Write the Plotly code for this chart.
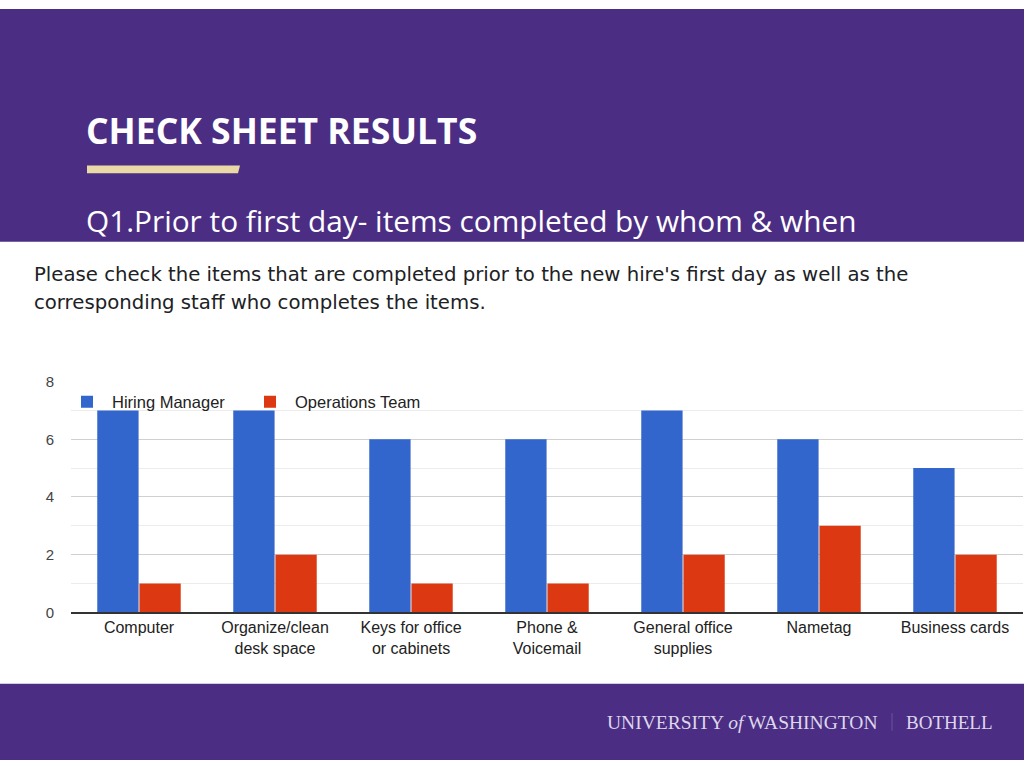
import plotly.graph_objects as go

# datos del grafico
categorias = ['Computer', 'Organize/clean<br>desk space', 'Keys for office<br>or cabinets',
              'Phone &<br>Voicemail', 'General office<br>supplies', 'Nametag', 'Business cards']
hiring_manager = [7, 7, 6, 6, 7, 6, 5]
operations_team = [1, 2, 1, 1, 2, 3, 2]
y_ticks = [0, 2, 4, 6, 8]

PURPLE = '#4b2e83'
GOLD = '#e9d9a6'
W, H = 1024, 768


def px_x(x):
    return x / W


def px_y(y):
    return 1 - y / H


fig = go.Figure()

fig.add_trace(go.Bar(x=categorias, y=hiring_manager, name='Hiring Manager',
                     marker=dict(color='#3366cc', line=dict(width=0))))
fig.add_trace(go.Bar(x=categorias, y=operations_team, name='Operations Team',
                     marker=dict(color='#dc3912', line=dict(width=0))))

fig.update_layout(
    width=W,
    height=H,
    margin=dict(l=0, r=0, t=0, b=0),
    paper_bgcolor='white',
    plot_bgcolor='white',
    barmode='group',
    bargap=0.38,
    bargroupgap=0.02,
    font=dict(family='Liberation Sans, Arial, sans-serif', color='#222222'),
    legend=dict(
        orientation='h',
        x=px_x(62), xanchor='left',
        y=px_y(384), yanchor='top',
        font=dict(size=16.5, color='#222222'),
        bgcolor='rgba(0,0,0,0)',
        itemwidth=40,
        entrywidth=128,
        traceorder='normal',
    ),
    xaxis=dict(
        domain=[px_x(71), px_x(1023)],
        showgrid=False,
        showline=True,
        linecolor='#333333',
        linewidth=1.5,
        tickfont=dict(size=16, color='#222222'),
        ticks='',
    ),
    yaxis=dict(
        domain=[px_y(617), px_y(381)],
        range=[0, 8],
        tickvals=y_ticks,
        tickfont=dict(size=15, color='#444444'),
        gridcolor='#d0d0d0',
        gridwidth=1,
        zeroline=False,
        ticklabelstandoff=16,
        minor=dict(dtick=1, showgrid=True, gridcolor='#ececec', gridwidth=1),
    ),
    showlegend=True,
)

# fondo de la diapositiva
fig.add_shape(type='rect', xref='paper', yref='paper', x0=0, x1=1, y0=px_y(238), y1=1,
              fillcolor=PURPLE, line=dict(width=0), layer='below')
fig.add_shape(type='rect', xref='paper', yref='paper', x0=0, x1=1, y0=0, y1=px_y(690),
              fillcolor=PURPLE, line=dict(width=0), layer='below')
fig.add_shape(type='path', xref='paper', yref='paper',
              path=f'M {px_x(87)} {px_y(160)} L {px_x(240)} {px_y(160)} '
                   f'L {px_x(238)} {px_y(168)} L {px_x(87)} {px_y(168)} Z',
              fillcolor=GOLD, line=dict(width=0))
fig.add_shape(type='line', xref='paper', yref='paper', x0=px_x(892), x1=px_x(892),
              y0=px_y(720), y1=px_y(738), line=dict(color='#6a559a', width=1))

# textos
fig.add_annotation(text='<b>CHECK SHEET RESULTS</b>', xref='paper', yref='paper',
                   x=px_x(84), y=px_y(124), xanchor='left', yanchor='middle', showarrow=False,
                   font=dict(family='Open Sans', size=35.5, color='white'))
fig.add_annotation(text='Q1.Prior to first day- items completed by whom & when', xref='paper', yref='paper',
                   x=px_x(84), y=px_y(216), xanchor='left', yanchor='middle', showarrow=False,
                   font=dict(family='Open Sans', size=29.8, color='white'))
pregunta = ["Please check the items that are completed prior to the new hire's first day as well as the",
            "corresponding staff who completes the items."]
for linea, y in zip(pregunta, [271, 300]):
    fig.add_annotation(text=linea, xref='paper', yref='paper', x=px_x(32), y=px_y(y),
                       xanchor='left', yanchor='middle', align='left', showarrow=False,
                       font=dict(family='DejaVu Sans', size=19.7, color='#202124'))
fig.add_annotation(text='UNIVERSITY <i>of</i> WASHINGTON', xref='paper', yref='paper',
                   x=px_x(880), y=px_y(730), xanchor='right', yanchor='middle', showarrow=False,
                   font=dict(family='Liberation Serif', size=19.5, color='#ded7ec'))
fig.add_annotation(text='BOTHELL', xref='paper', yref='paper',
                   x=px_x(904), y=px_y(730), xanchor='left', yanchor='middle', showarrow=False,
                   font=dict(family='Liberation Serif', size=19, color='#ded7ec'))

# la figura ocupa toda la ventana, sin margen del body ni barra de herramientas
fig.write_html(
    'out.html',
    config={'displayModeBar': False},
    post_script="document.body.style.margin='0';"
                "document.documentElement.style.overflow='hidden';"
                "document.body.style.overflow='hidden';",
)
